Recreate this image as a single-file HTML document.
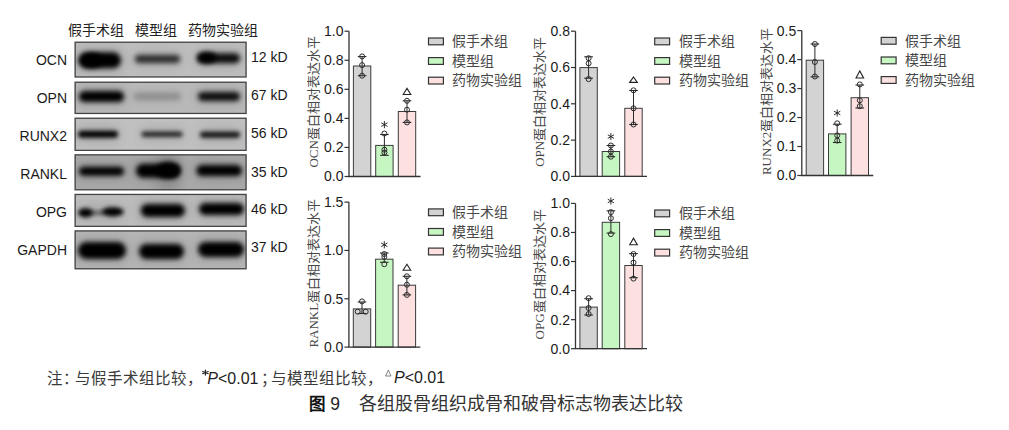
<!DOCTYPE html>
<html lang="zh-CN"><head><meta charset="utf-8"><style>
html,body{margin:0;padding:0;background:#fff;}
body{width:1009px;height:430px;overflow:hidden;position:relative;font-family:"Liberation Sans", sans-serif;}
svg{position:absolute;left:0;top:0;display:block;}
</style></head><body>
<svg width="1009" height="430" viewBox="0 0 1009 430">
<defs><filter id="bl2" x="-30%" y="-100%" width="160%" height="300%"><feGaussianBlur stdDeviation="2.5"/></filter><filter id="bl1" x="-30%" y="-100%" width="160%" height="300%"><feGaussianBlur stdDeviation="2"/></filter><filter id="bl3" x="-30%" y="-100%" width="160%" height="300%"><feGaussianBlur stdDeviation="3"/></filter><filter id="bl6" x="-50%" y="-50%" width="200%" height="200%"><feGaussianBlur stdDeviation="6"/></filter><linearGradient id="gbg" x1="0" y1="0" x2="0" y2="1"><stop offset="0" stop-color="#c2c2c2"/><stop offset="1" stop-color="#b8b8b8"/></linearGradient><clipPath id="cb0"><rect x="74.5" y="41.6" width="172.2" height="35.99999999999999"/></clipPath><clipPath id="cb1"><rect x="74.5" y="81.6" width="172.2" height="32.5"/></clipPath><clipPath id="cb2"><rect x="74.5" y="117.6" width="172.2" height="33.400000000000006"/></clipPath><clipPath id="cb3"><rect x="74.5" y="154.2" width="172.2" height="36.20000000000002"/></clipPath><clipPath id="cb4"><rect x="74.5" y="193.8" width="172.2" height="33.19999999999999"/></clipPath><clipPath id="cb5"><rect x="74.5" y="230.3" width="172.2" height="39.099999999999966"/></clipPath></defs>
<rect width="1009" height="430" fill="#fff"/>
<g clip-path="url(#cb0)">
<rect x="74.5" y="41.6" width="172.2" height="35.99999999999999" fill="#bebebe"/>
<rect x="76.5" y="48.30" width="46.5" height="24" rx="6" fill="#000" opacity="0.120" filter="url(#bl6)"/>
<rect x="133" y="51.00" width="49" height="16" rx="6" fill="#000" opacity="0.090" filter="url(#bl6)"/>
<rect x="195" y="49.30" width="47" height="18" rx="6" fill="#000" opacity="0.110" filter="url(#bl6)"/>
<rect x="78.5" y="52.30" width="42.5" height="16" rx="8.0" fill="#000" opacity="1.0" filter="url(#bl2)"/>
<rect x="135" y="55.00" width="45" height="8" rx="4.0" fill="#000" opacity="0.75" filter="url(#bl2)"/>
<rect x="197" y="53.30" width="43" height="10" rx="5.0" fill="#000" opacity="0.92" filter="url(#bl2)"/>
<ellipse cx="92" cy="60.5" rx="11" ry="7.2" fill="#000" filter="url(#bl2)"/>
<ellipse cx="207" cy="57.5" rx="9" ry="5.5" fill="#000" filter="url(#bl2)"/>
</g>
<rect x="75.15" y="42.25" width="170.90" height="34.70" fill="none" stroke="#454545" stroke-width="1.3"/>
<g clip-path="url(#cb1)">
<rect x="74.5" y="81.6" width="172.2" height="32.5" fill="#b9b9b9"/>
<rect x="77" y="87.00" width="49" height="19" rx="6" fill="#000" opacity="0.120" filter="url(#bl6)"/>
<rect x="132" y="88.50" width="51" height="16" rx="6" fill="#000" opacity="0.024" filter="url(#bl6)"/>
<rect x="196" y="88.00" width="46" height="17" rx="6" fill="#000" opacity="0.110" filter="url(#bl6)"/>
<rect x="79" y="91.00" width="45" height="11" rx="5.5" fill="#000" opacity="1.0" filter="url(#bl2)"/>
<rect x="134" y="92.50" width="47" height="8" rx="4.0" fill="#000" opacity="0.2" filter="url(#bl2)"/>
<rect x="198" y="92.00" width="42" height="9" rx="4.5" fill="#000" opacity="0.92" filter="url(#bl2)"/>
</g>
<rect x="75.15" y="82.25" width="170.90" height="31.20" fill="none" stroke="#454545" stroke-width="1.3"/>
<g clip-path="url(#cb2)">
<rect x="74.5" y="117.6" width="172.2" height="33.400000000000006" fill="#c0c0c0"/>
<rect x="76" y="126.80" width="44" height="15" rx="6" fill="#000" opacity="0.120" filter="url(#bl6)"/>
<rect x="139.5" y="127.80" width="45.0" height="13" rx="6" fill="#000" opacity="0.102" filter="url(#bl6)"/>
<rect x="198" y="127.80" width="44" height="14" rx="6" fill="#000" opacity="0.108" filter="url(#bl6)"/>
<rect x="78" y="130.80" width="40" height="7" rx="3.5" fill="#000" opacity="1.0" filter="url(#bl1)"/>
<rect x="141.5" y="131.80" width="41.0" height="5" rx="2.5" fill="#000" opacity="0.85" filter="url(#bl1)"/>
<rect x="200" y="131.80" width="40" height="6" rx="3.0" fill="#000" opacity="0.9" filter="url(#bl1)"/>
</g>
<rect x="75.15" y="118.25" width="170.90" height="32.10" fill="none" stroke="#454545" stroke-width="1.3"/>
<g clip-path="url(#cb3)">
<rect x="74.5" y="154.2" width="172.2" height="36.20000000000002" fill="#a9a9a9"/>
<rect x="77" y="162.70" width="49" height="17" rx="6" fill="#000" opacity="0.120" filter="url(#bl6)"/>
<rect x="134" y="159.80" width="48.599999999999994" height="22" rx="6" fill="#000" opacity="0.120" filter="url(#bl6)"/>
<rect x="194.4" y="161.10" width="49.599999999999994" height="19" rx="6" fill="#000" opacity="0.120" filter="url(#bl6)"/>
<rect x="158" y="150" width="20" height="45" fill="#000" opacity="0.12" filter="url(#bl6)"/>
<rect x="79" y="166.70" width="45" height="9" rx="4.5" fill="#000" opacity="1.0" filter="url(#bl2)"/>
<rect x="136" y="163.80" width="44.599999999999994" height="14" rx="7.0" fill="#000" opacity="1.0" filter="url(#bl2)"/>
<rect x="196.4" y="165.10" width="45.599999999999994" height="11" rx="5.5" fill="#000" opacity="1.0" filter="url(#bl2)"/>
<ellipse cx="168" cy="170.3" rx="12" ry="8" fill="#000" filter="url(#bl2)"/>
</g>
<rect x="75.15" y="154.85" width="170.90" height="34.90" fill="none" stroke="#454545" stroke-width="1.3"/>
<g clip-path="url(#cb4)">
<rect x="74.5" y="193.8" width="172.2" height="33.19999999999999" fill="#bcbcbc"/>
<rect x="138.7" y="200.00" width="48.30000000000001" height="21" rx="6" fill="#000" opacity="0.120" filter="url(#bl6)"/>
<rect x="197" y="199.00" width="49" height="20" rx="6" fill="#000" opacity="0.120" filter="url(#bl6)"/>
<rect x="140.7" y="204.00" width="44.30000000000001" height="13" rx="6.5" fill="#000" opacity="1.0" filter="url(#bl2)"/>
<rect x="199" y="203.00" width="45" height="12" rx="6.0" fill="#000" opacity="1.0" filter="url(#bl2)"/>
<ellipse cx="85.5" cy="212.8" rx="7.5" ry="4.6" fill="#000" filter="url(#bl1)"/>
<ellipse cx="112.8" cy="211.8" rx="11" ry="4.6" fill="#000" filter="url(#bl1)"/>
<rect x="90" y="211.3" width="14" height="3" fill="#000" opacity="0.6" filter="url(#bl1)"/>
<rect x="80" y="206" width="44" height="13" rx="6" fill="#000" opacity="0.12" filter="url(#bl6)"/>
</g>
<rect x="75.15" y="194.45000000000002" width="170.90" height="31.90" fill="none" stroke="#454545" stroke-width="1.3"/>
<g clip-path="url(#cb5)">
<rect x="74.5" y="230.3" width="172.2" height="39.099999999999966" fill="#b6b6b6"/>
<rect x="76" y="237.90" width="52" height="25" rx="6" fill="#000" opacity="0.120" filter="url(#bl6)"/>
<rect x="137" y="239.90" width="49" height="23" rx="6" fill="#000" opacity="0.120" filter="url(#bl6)"/>
<rect x="196" y="238.00" width="50" height="23" rx="6" fill="#000" opacity="0.120" filter="url(#bl6)"/>
<rect x="78" y="241.90" width="48" height="17" rx="8.5" fill="#000" opacity="1.0" filter="url(#bl2)"/>
<rect x="139" y="243.90" width="45" height="15" rx="7.5" fill="#000" opacity="1.0" filter="url(#bl2)"/>
<rect x="198" y="242.00" width="46" height="15" rx="7.5" fill="#000" opacity="1.0" filter="url(#bl2)"/>
</g>
<rect x="75.15" y="230.95000000000002" width="170.90" height="37.80" fill="none" stroke="#454545" stroke-width="1.3"/>
<text x="67" y="64.7" text-anchor="end" font-size="14" fill="#1a1a1a" font-family='"Liberation Sans", sans-serif'>OCN</text>
<text x="67" y="102.8" text-anchor="end" font-size="14" fill="#1a1a1a" font-family='"Liberation Sans", sans-serif'>OPN</text>
<text x="67" y="140.6" text-anchor="end" font-size="14" fill="#1a1a1a" font-family='"Liberation Sans", sans-serif'>RUNX2</text>
<text x="67" y="178.5" text-anchor="end" font-size="14" fill="#1a1a1a" font-family='"Liberation Sans", sans-serif'>RANKL</text>
<text x="67" y="216.9" text-anchor="end" font-size="14" fill="#1a1a1a" font-family='"Liberation Sans", sans-serif'>OPG</text>
<text x="67" y="254.7" text-anchor="end" font-size="14" fill="#1a1a1a" font-family='"Liberation Sans", sans-serif'>GAPDH</text>
<text x="251" y="62.4" font-size="14" fill="#1a1a1a" font-family='"Liberation Sans", sans-serif'>12 kD</text>
<text x="251" y="99.9" font-size="14" fill="#1a1a1a" font-family='"Liberation Sans", sans-serif'>67 kD</text>
<text x="251" y="138.3" font-size="14" fill="#1a1a1a" font-family='"Liberation Sans", sans-serif'>56 kD</text>
<text x="251" y="176.6" font-size="14" fill="#1a1a1a" font-family='"Liberation Sans", sans-serif'>35 kD</text>
<text x="251" y="214.2" font-size="14" fill="#1a1a1a" font-family='"Liberation Sans", sans-serif'>46 kD</text>
<text x="251" y="251.9" font-size="14" fill="#1a1a1a" font-family='"Liberation Sans", sans-serif'>37 kD</text>
<text x="67.5" y="34.5" font-size="14" fill="#222" font-family='"Liberation Sans", sans-serif'>假手术组</text>
<text x="134.8" y="34.5" font-size="14" fill="#222" font-family='"Liberation Sans", sans-serif'>模型组</text>
<text x="187.5" y="34.5" font-size="14" fill="#222" font-family='"Liberation Sans", sans-serif'>药物实验组</text>
<rect x="353.40" y="66" width="17.4" height="110.50" fill="#d3d3d3" stroke="#3a3a3a" stroke-width="1"/>
<rect x="375.70" y="145.4" width="17.4" height="31.10" fill="#c6f6c2" stroke="#3a3a3a" stroke-width="1"/>
<rect x="398.30" y="111.5" width="17.4" height="65.00" fill="#fde0e0" stroke="#3a3a3a" stroke-width="1"/>
<line x1="362.10" y1="56.6" x2="362.10" y2="75.7" stroke="#2a2a2a" stroke-width="1"/>
<line x1="357.80" y1="56.6" x2="366.40" y2="56.6" stroke="#2a2a2a" stroke-width="1.1"/>
<line x1="357.80" y1="75.7" x2="366.40" y2="75.7" stroke="#2a2a2a" stroke-width="1.1"/>
<circle cx="362.10" cy="56.4" r="2.5" fill="none" stroke="#2a2a2a" stroke-width="1"/>
<circle cx="362.10" cy="65.1" r="2.5" fill="none" stroke="#2a2a2a" stroke-width="1"/>
<circle cx="362.10" cy="75.7" r="2.5" fill="none" stroke="#2a2a2a" stroke-width="1"/>
<line x1="384.40" y1="134.5" x2="384.40" y2="155.3" stroke="#2a2a2a" stroke-width="1"/>
<line x1="380.10" y1="134.5" x2="388.70" y2="134.5" stroke="#2a2a2a" stroke-width="1.1"/>
<line x1="380.10" y1="155.3" x2="388.70" y2="155.3" stroke="#2a2a2a" stroke-width="1.1"/>
<circle cx="384.40" cy="133.5" r="2.5" fill="none" stroke="#2a2a2a" stroke-width="1"/>
<circle cx="384.40" cy="149.7" r="2.5" fill="none" stroke="#2a2a2a" stroke-width="1"/>
<circle cx="384.40" cy="152.5" r="2.5" fill="none" stroke="#2a2a2a" stroke-width="1"/>
<line x1="407.00" y1="100.8" x2="407.00" y2="122.4" stroke="#2a2a2a" stroke-width="1"/>
<line x1="402.70" y1="100.8" x2="411.30" y2="100.8" stroke="#2a2a2a" stroke-width="1.1"/>
<line x1="402.70" y1="122.4" x2="411.30" y2="122.4" stroke="#2a2a2a" stroke-width="1.1"/>
<circle cx="407.00" cy="100.8" r="2.5" fill="none" stroke="#2a2a2a" stroke-width="1"/>
<circle cx="407.00" cy="109.7" r="2.5" fill="none" stroke="#2a2a2a" stroke-width="1"/>
<circle cx="407.00" cy="122.4" r="2.5" fill="none" stroke="#2a2a2a" stroke-width="1"/>
<line x1="384.40" y1="121.40" x2="384.40" y2="127.80" stroke="#222" stroke-width="0.95" stroke-linecap="round"/>
<line x1="381.63" y1="123.00" x2="387.17" y2="126.20" stroke="#222" stroke-width="0.95" stroke-linecap="round"/>
<line x1="387.17" y1="123.00" x2="381.63" y2="126.20" stroke="#222" stroke-width="0.95" stroke-linecap="round"/>
<path d="M403.20,94.5 L407.00,88.4 L410.80,94.5 Z" fill="none" stroke="#222" stroke-width="1.1" stroke-linejoin="miter"/>
<path d="M349.0,31.2 V176.5 H420.5" fill="none" stroke="#333" stroke-width="1.3"/>
<line x1="344.5" y1="176.5" x2="349.0" y2="176.5" stroke="#333" stroke-width="1.2"/>
<text x="343.5" y="181.40" text-anchor="end" font-size="14" fill="#1a1a1a" font-family='"Liberation Sans", sans-serif'>0.0</text>
<line x1="344.5" y1="147.44" x2="349.0" y2="147.44" stroke="#333" stroke-width="1.2"/>
<text x="343.5" y="152.34" text-anchor="end" font-size="14" fill="#1a1a1a" font-family='"Liberation Sans", sans-serif'>0.2</text>
<line x1="344.5" y1="118.38" x2="349.0" y2="118.38" stroke="#333" stroke-width="1.2"/>
<text x="343.5" y="123.28" text-anchor="end" font-size="14" fill="#1a1a1a" font-family='"Liberation Sans", sans-serif'>0.4</text>
<line x1="344.5" y1="89.32" x2="349.0" y2="89.32" stroke="#333" stroke-width="1.2"/>
<text x="343.5" y="94.22" text-anchor="end" font-size="14" fill="#1a1a1a" font-family='"Liberation Sans", sans-serif'>0.6</text>
<line x1="344.5" y1="60.25999999999999" x2="349.0" y2="60.25999999999999" stroke="#333" stroke-width="1.2"/>
<text x="343.5" y="65.16" text-anchor="end" font-size="14" fill="#1a1a1a" font-family='"Liberation Sans", sans-serif'>0.8</text>
<line x1="344.5" y1="31.19999999999999" x2="349.0" y2="31.19999999999999" stroke="#333" stroke-width="1.2"/>
<text x="343.5" y="36.10" text-anchor="end" font-size="14" fill="#1a1a1a" font-family='"Liberation Sans", sans-serif'>1.0</text>
<text transform="translate(318.0,101.8) rotate(-90)" text-anchor="middle" font-size="13" fill="#484848" font-family='"Liberation Serif", serif'>OCN蛋白相对表达水平</text>
<rect x="428.5" y="38.0" width="14.9" height="6.8" fill="#d3d3d3" stroke="#333" stroke-width="1.2"/>
<text x="452.4" y="46.2" font-size="14" fill="#484848" font-family='"Liberation Serif", serif'>假手术组</text>
<rect x="428.5" y="57.6" width="14.9" height="6.8" fill="#c6f6c2" stroke="#333" stroke-width="1.2"/>
<text x="452.4" y="65.8" font-size="14" fill="#484848" font-family='"Liberation Serif", serif'>模型组</text>
<rect x="428.5" y="77.19999999999999" width="14.9" height="6.8" fill="#fde0e0" stroke="#333" stroke-width="1.2"/>
<text x="452.4" y="85.39999999999999" font-size="14" fill="#484848" font-family='"Liberation Serif", serif'>药物实验组</text>
<rect x="579.90" y="67.6" width="17.4" height="108.80" fill="#d3d3d3" stroke="#3a3a3a" stroke-width="1"/>
<rect x="602.20" y="151.5" width="17.4" height="24.90" fill="#c6f6c2" stroke="#3a3a3a" stroke-width="1"/>
<rect x="624.80" y="108.3" width="17.4" height="68.10" fill="#fde0e0" stroke="#3a3a3a" stroke-width="1"/>
<line x1="588.60" y1="56.8" x2="588.60" y2="78.2" stroke="#2a2a2a" stroke-width="1"/>
<line x1="584.30" y1="56.8" x2="592.90" y2="56.8" stroke="#2a2a2a" stroke-width="1.1"/>
<line x1="584.30" y1="78.2" x2="592.90" y2="78.2" stroke="#2a2a2a" stroke-width="1.1"/>
<circle cx="588.60" cy="58.2" r="2.5" fill="none" stroke="#2a2a2a" stroke-width="1"/>
<circle cx="588.60" cy="63.3" r="2.5" fill="none" stroke="#2a2a2a" stroke-width="1"/>
<circle cx="588.60" cy="79.1" r="2.5" fill="none" stroke="#2a2a2a" stroke-width="1"/>
<line x1="610.90" y1="145.5" x2="610.90" y2="156.7" stroke="#2a2a2a" stroke-width="1"/>
<line x1="606.60" y1="145.5" x2="615.20" y2="145.5" stroke="#2a2a2a" stroke-width="1.1"/>
<line x1="606.60" y1="156.7" x2="615.20" y2="156.7" stroke="#2a2a2a" stroke-width="1.1"/>
<circle cx="610.90" cy="145.5" r="2.5" fill="none" stroke="#2a2a2a" stroke-width="1"/>
<circle cx="610.90" cy="151.5" r="2.5" fill="none" stroke="#2a2a2a" stroke-width="1"/>
<circle cx="610.90" cy="156.7" r="2.5" fill="none" stroke="#2a2a2a" stroke-width="1"/>
<line x1="633.50" y1="90.5" x2="633.50" y2="124.5" stroke="#2a2a2a" stroke-width="1"/>
<line x1="629.20" y1="90.5" x2="637.80" y2="90.5" stroke="#2a2a2a" stroke-width="1.1"/>
<line x1="629.20" y1="124.5" x2="637.80" y2="124.5" stroke="#2a2a2a" stroke-width="1.1"/>
<circle cx="633.50" cy="90.3" r="2.5" fill="none" stroke="#2a2a2a" stroke-width="1"/>
<circle cx="633.50" cy="108.3" r="2.5" fill="none" stroke="#2a2a2a" stroke-width="1"/>
<circle cx="633.50" cy="124.5" r="2.5" fill="none" stroke="#2a2a2a" stroke-width="1"/>
<line x1="610.90" y1="133.40" x2="610.90" y2="139.80" stroke="#222" stroke-width="0.95" stroke-linecap="round"/>
<line x1="608.13" y1="135.00" x2="613.67" y2="138.20" stroke="#222" stroke-width="0.95" stroke-linecap="round"/>
<line x1="613.67" y1="135.00" x2="608.13" y2="138.20" stroke="#222" stroke-width="0.95" stroke-linecap="round"/>
<path d="M629.70,82.4 L633.50,76.9 L637.30,82.4 Z" fill="none" stroke="#222" stroke-width="1.1" stroke-linejoin="miter"/>
<path d="M575.5,31.2 V176.4 H647.0" fill="none" stroke="#333" stroke-width="1.3"/>
<line x1="571.0" y1="176.4" x2="575.5" y2="176.4" stroke="#333" stroke-width="1.2"/>
<text x="570.0" y="181.30" text-anchor="end" font-size="14" fill="#1a1a1a" font-family='"Liberation Sans", sans-serif'>0.0</text>
<line x1="571.0" y1="140.1" x2="575.5" y2="140.1" stroke="#333" stroke-width="1.2"/>
<text x="570.0" y="145.00" text-anchor="end" font-size="14" fill="#1a1a1a" font-family='"Liberation Sans", sans-serif'>0.2</text>
<line x1="571.0" y1="103.8" x2="575.5" y2="103.8" stroke="#333" stroke-width="1.2"/>
<text x="570.0" y="108.70" text-anchor="end" font-size="14" fill="#1a1a1a" font-family='"Liberation Sans", sans-serif'>0.4</text>
<line x1="571.0" y1="67.5" x2="575.5" y2="67.5" stroke="#333" stroke-width="1.2"/>
<text x="570.0" y="72.40" text-anchor="end" font-size="14" fill="#1a1a1a" font-family='"Liberation Sans", sans-serif'>0.6</text>
<line x1="571.0" y1="31.19999999999999" x2="575.5" y2="31.19999999999999" stroke="#333" stroke-width="1.2"/>
<text x="570.0" y="36.10" text-anchor="end" font-size="14" fill="#1a1a1a" font-family='"Liberation Sans", sans-serif'>0.8</text>
<text transform="translate(544.3,101.8) rotate(-90)" text-anchor="middle" font-size="13" fill="#484848" font-family='"Liberation Serif", serif'>OPN蛋白相对表达水平</text>
<rect x="654.7" y="38.0" width="14.9" height="6.8" fill="#d3d3d3" stroke="#333" stroke-width="1.2"/>
<text x="678.6" y="46.2" font-size="14" fill="#484848" font-family='"Liberation Serif", serif'>假手术组</text>
<rect x="654.7" y="57.6" width="14.9" height="6.8" fill="#c6f6c2" stroke="#333" stroke-width="1.2"/>
<text x="678.6" y="65.8" font-size="14" fill="#484848" font-family='"Liberation Serif", serif'>模型组</text>
<rect x="654.7" y="77.19999999999999" width="14.9" height="6.8" fill="#fde0e0" stroke="#333" stroke-width="1.2"/>
<text x="678.6" y="85.39999999999999" font-size="14" fill="#484848" font-family='"Liberation Serif", serif'>药物实验组</text>
<rect x="806.20" y="60.2" width="17.4" height="115.30" fill="#d3d3d3" stroke="#3a3a3a" stroke-width="1"/>
<rect x="828.50" y="133.9" width="17.4" height="41.60" fill="#c6f6c2" stroke="#3a3a3a" stroke-width="1"/>
<rect x="851.10" y="97.7" width="17.4" height="77.80" fill="#fde0e0" stroke="#3a3a3a" stroke-width="1"/>
<line x1="814.90" y1="44" x2="814.90" y2="76.8" stroke="#2a2a2a" stroke-width="1"/>
<line x1="810.60" y1="44" x2="819.20" y2="44" stroke="#2a2a2a" stroke-width="1.1"/>
<line x1="810.60" y1="76.8" x2="819.20" y2="76.8" stroke="#2a2a2a" stroke-width="1.1"/>
<circle cx="814.90" cy="44" r="2.5" fill="none" stroke="#2a2a2a" stroke-width="1"/>
<circle cx="814.90" cy="62" r="2.5" fill="none" stroke="#2a2a2a" stroke-width="1"/>
<circle cx="814.90" cy="76.5" r="2.5" fill="none" stroke="#2a2a2a" stroke-width="1"/>
<line x1="837.20" y1="124.2" x2="837.20" y2="142.5" stroke="#2a2a2a" stroke-width="1"/>
<line x1="832.90" y1="124.2" x2="841.50" y2="124.2" stroke="#2a2a2a" stroke-width="1.1"/>
<line x1="832.90" y1="142.5" x2="841.50" y2="142.5" stroke="#2a2a2a" stroke-width="1.1"/>
<circle cx="837.20" cy="123.3" r="2.5" fill="none" stroke="#2a2a2a" stroke-width="1"/>
<circle cx="837.20" cy="135.4" r="2.5" fill="none" stroke="#2a2a2a" stroke-width="1"/>
<circle cx="837.20" cy="140.6" r="2.5" fill="none" stroke="#2a2a2a" stroke-width="1"/>
<line x1="859.80" y1="85" x2="859.80" y2="108" stroke="#2a2a2a" stroke-width="1"/>
<line x1="855.50" y1="85" x2="864.10" y2="85" stroke="#2a2a2a" stroke-width="1.1"/>
<line x1="855.50" y1="108" x2="864.10" y2="108" stroke="#2a2a2a" stroke-width="1.1"/>
<circle cx="859.80" cy="84.4" r="2.5" fill="none" stroke="#2a2a2a" stroke-width="1"/>
<circle cx="859.80" cy="100.3" r="2.5" fill="none" stroke="#2a2a2a" stroke-width="1"/>
<circle cx="859.80" cy="106.2" r="2.5" fill="none" stroke="#2a2a2a" stroke-width="1"/>
<line x1="837.20" y1="109.80" x2="837.20" y2="116.20" stroke="#222" stroke-width="0.95" stroke-linecap="round"/>
<line x1="834.43" y1="111.40" x2="839.97" y2="114.60" stroke="#222" stroke-width="0.95" stroke-linecap="round"/>
<line x1="839.97" y1="111.40" x2="834.43" y2="114.60" stroke="#222" stroke-width="0.95" stroke-linecap="round"/>
<path d="M856.00,78.0 L859.80,70.9 L863.60,78.0 Z" fill="none" stroke="#222" stroke-width="1.1" stroke-linejoin="miter"/>
<path d="M801.8,30.6 V175.5 H873.3" fill="none" stroke="#333" stroke-width="1.3"/>
<line x1="797.3" y1="175.5" x2="801.8" y2="175.5" stroke="#333" stroke-width="1.2"/>
<text x="796.3" y="180.40" text-anchor="end" font-size="14" fill="#1a1a1a" font-family='"Liberation Sans", sans-serif'>0.0</text>
<line x1="797.3" y1="146.52" x2="801.8" y2="146.52" stroke="#333" stroke-width="1.2"/>
<text x="796.3" y="151.42" text-anchor="end" font-size="14" fill="#1a1a1a" font-family='"Liberation Sans", sans-serif'>0.1</text>
<line x1="797.3" y1="117.53999999999999" x2="801.8" y2="117.53999999999999" stroke="#333" stroke-width="1.2"/>
<text x="796.3" y="122.44" text-anchor="end" font-size="14" fill="#1a1a1a" font-family='"Liberation Sans", sans-serif'>0.2</text>
<line x1="797.3" y1="88.55999999999999" x2="801.8" y2="88.55999999999999" stroke="#333" stroke-width="1.2"/>
<text x="796.3" y="93.46" text-anchor="end" font-size="14" fill="#1a1a1a" font-family='"Liberation Sans", sans-serif'>0.3</text>
<line x1="797.3" y1="59.58" x2="801.8" y2="59.58" stroke="#333" stroke-width="1.2"/>
<text x="796.3" y="64.48" text-anchor="end" font-size="14" fill="#1a1a1a" font-family='"Liberation Sans", sans-serif'>0.4</text>
<line x1="797.3" y1="30.599999999999994" x2="801.8" y2="30.599999999999994" stroke="#333" stroke-width="1.2"/>
<text x="796.3" y="35.50" text-anchor="end" font-size="14" fill="#1a1a1a" font-family='"Liberation Sans", sans-serif'>0.5</text>
<text transform="translate(771.3,101.4) rotate(-90)" text-anchor="middle" font-size="13" fill="#484848" font-family='"Liberation Serif", serif'>RUNX2蛋白相对表达水平</text>
<rect x="881.2" y="37.4" width="14.9" height="6.8" fill="#d3d3d3" stroke="#333" stroke-width="1.2"/>
<text x="905.1" y="45.599999999999994" font-size="14" fill="#484848" font-family='"Liberation Serif", serif'>假手术组</text>
<rect x="881.2" y="57.0" width="14.9" height="6.8" fill="#c6f6c2" stroke="#333" stroke-width="1.2"/>
<text x="905.1" y="65.2" font-size="14" fill="#484848" font-family='"Liberation Serif", serif'>模型组</text>
<rect x="881.2" y="76.6" width="14.9" height="6.8" fill="#fde0e0" stroke="#333" stroke-width="1.2"/>
<text x="905.1" y="84.8" font-size="14" fill="#484848" font-family='"Liberation Serif", serif'>药物实验组</text>
<rect x="353.30" y="308.9" width="17.4" height="38.20" fill="#d3d3d3" stroke="#3a3a3a" stroke-width="1"/>
<rect x="375.60" y="259.2" width="17.4" height="87.90" fill="#c6f6c2" stroke="#3a3a3a" stroke-width="1"/>
<rect x="398.20" y="285.2" width="17.4" height="61.90" fill="#fde0e0" stroke="#3a3a3a" stroke-width="1"/>
<line x1="362.00" y1="302" x2="362.00" y2="313.5" stroke="#2a2a2a" stroke-width="1"/>
<line x1="357.70" y1="302" x2="366.30" y2="302" stroke="#2a2a2a" stroke-width="1.1"/>
<line x1="357.70" y1="313.5" x2="366.30" y2="313.5" stroke="#2a2a2a" stroke-width="1.1"/>
<circle cx="362.00" cy="301.4" r="2.5" fill="none" stroke="#2a2a2a" stroke-width="1"/>
<circle cx="357.70" cy="311.7" r="2.5" fill="none" stroke="#2a2a2a" stroke-width="1"/>
<circle cx="365.70" cy="311.7" r="2.5" fill="none" stroke="#2a2a2a" stroke-width="1"/>
<line x1="384.30" y1="253" x2="384.30" y2="262.3" stroke="#2a2a2a" stroke-width="1"/>
<line x1="380.00" y1="253" x2="388.60" y2="253" stroke="#2a2a2a" stroke-width="1.1"/>
<line x1="380.00" y1="262.3" x2="388.60" y2="262.3" stroke="#2a2a2a" stroke-width="1.1"/>
<circle cx="384.30" cy="254" r="2.5" fill="none" stroke="#2a2a2a" stroke-width="1"/>
<circle cx="384.30" cy="256.8" r="2.5" fill="none" stroke="#2a2a2a" stroke-width="1"/>
<circle cx="384.30" cy="264.2" r="2.5" fill="none" stroke="#2a2a2a" stroke-width="1"/>
<line x1="406.90" y1="276.3" x2="406.90" y2="294.9" stroke="#2a2a2a" stroke-width="1"/>
<line x1="402.60" y1="276.3" x2="411.20" y2="276.3" stroke="#2a2a2a" stroke-width="1.1"/>
<line x1="402.60" y1="294.9" x2="411.20" y2="294.9" stroke="#2a2a2a" stroke-width="1.1"/>
<circle cx="406.90" cy="276.3" r="2.5" fill="none" stroke="#2a2a2a" stroke-width="1"/>
<circle cx="406.90" cy="284.7" r="2.5" fill="none" stroke="#2a2a2a" stroke-width="1"/>
<circle cx="406.90" cy="294.9" r="2.5" fill="none" stroke="#2a2a2a" stroke-width="1"/>
<line x1="384.30" y1="241.60" x2="384.30" y2="248.00" stroke="#222" stroke-width="0.95" stroke-linecap="round"/>
<line x1="381.53" y1="243.20" x2="387.07" y2="246.40" stroke="#222" stroke-width="0.95" stroke-linecap="round"/>
<line x1="387.07" y1="243.20" x2="381.53" y2="246.40" stroke="#222" stroke-width="0.95" stroke-linecap="round"/>
<path d="M403.10,270.3 L406.90,264.2 L410.70,270.3 Z" fill="none" stroke="#222" stroke-width="1.1" stroke-linejoin="miter"/>
<path d="M348.9,202.1 V347.1 H420.4" fill="none" stroke="#333" stroke-width="1.3"/>
<line x1="344.4" y1="347.1" x2="348.9" y2="347.1" stroke="#333" stroke-width="1.2"/>
<text x="343.4" y="352.00" text-anchor="end" font-size="14" fill="#1a1a1a" font-family='"Liberation Sans", sans-serif'>0.0</text>
<line x1="344.4" y1="298.76666666666665" x2="348.9" y2="298.76666666666665" stroke="#333" stroke-width="1.2"/>
<text x="343.4" y="303.67" text-anchor="end" font-size="14" fill="#1a1a1a" font-family='"Liberation Sans", sans-serif'>0.5</text>
<line x1="344.4" y1="250.43333333333334" x2="348.9" y2="250.43333333333334" stroke="#333" stroke-width="1.2"/>
<text x="343.4" y="255.33" text-anchor="end" font-size="14" fill="#1a1a1a" font-family='"Liberation Sans", sans-serif'>1.0</text>
<line x1="344.4" y1="202.1" x2="348.9" y2="202.1" stroke="#333" stroke-width="1.2"/>
<text x="343.4" y="207.00" text-anchor="end" font-size="14" fill="#1a1a1a" font-family='"Liberation Sans", sans-serif'>1.5</text>
<text transform="translate(318.3,273.2) rotate(-90)" text-anchor="middle" font-size="13" fill="#484848" font-family='"Liberation Serif", serif'>RANKL蛋白相对表达水平</text>
<rect x="428.5" y="208.9" width="14.9" height="6.8" fill="#d3d3d3" stroke="#333" stroke-width="1.2"/>
<text x="452.4" y="217.10000000000002" font-size="14" fill="#484848" font-family='"Liberation Serif", serif'>假手术组</text>
<rect x="428.5" y="228.5" width="14.9" height="6.8" fill="#c6f6c2" stroke="#333" stroke-width="1.2"/>
<text x="452.4" y="236.70000000000002" font-size="14" fill="#484848" font-family='"Liberation Serif", serif'>模型组</text>
<rect x="428.5" y="248.1" width="14.9" height="6.8" fill="#fde0e0" stroke="#333" stroke-width="1.2"/>
<text x="452.4" y="256.3" font-size="14" fill="#484848" font-family='"Liberation Serif", serif'>药物实验组</text>
<rect x="579.90" y="307.1" width="17.4" height="41.60" fill="#d3d3d3" stroke="#3a3a3a" stroke-width="1"/>
<rect x="602.20" y="222.3" width="17.4" height="126.40" fill="#c6f6c2" stroke="#3a3a3a" stroke-width="1"/>
<rect x="624.80" y="265.5" width="17.4" height="83.20" fill="#fde0e0" stroke="#3a3a3a" stroke-width="1"/>
<line x1="588.60" y1="298.7" x2="588.60" y2="315" stroke="#2a2a2a" stroke-width="1"/>
<line x1="584.30" y1="298.7" x2="592.90" y2="298.7" stroke="#2a2a2a" stroke-width="1.1"/>
<line x1="584.30" y1="315" x2="592.90" y2="315" stroke="#2a2a2a" stroke-width="1.1"/>
<circle cx="588.60" cy="298.2" r="2.5" fill="none" stroke="#2a2a2a" stroke-width="1"/>
<circle cx="588.60" cy="308" r="2.5" fill="none" stroke="#2a2a2a" stroke-width="1"/>
<circle cx="588.60" cy="314" r="2.5" fill="none" stroke="#2a2a2a" stroke-width="1"/>
<line x1="610.90" y1="210.8" x2="610.90" y2="233.1" stroke="#2a2a2a" stroke-width="1"/>
<line x1="606.60" y1="210.8" x2="615.20" y2="210.8" stroke="#2a2a2a" stroke-width="1.1"/>
<line x1="606.60" y1="233.1" x2="615.20" y2="233.1" stroke="#2a2a2a" stroke-width="1.1"/>
<circle cx="610.90" cy="212.1" r="2.5" fill="none" stroke="#2a2a2a" stroke-width="1"/>
<circle cx="610.90" cy="218.2" r="2.5" fill="none" stroke="#2a2a2a" stroke-width="1"/>
<circle cx="610.90" cy="234.1" r="2.5" fill="none" stroke="#2a2a2a" stroke-width="1"/>
<line x1="633.50" y1="253.6" x2="633.50" y2="277.7" stroke="#2a2a2a" stroke-width="1"/>
<line x1="629.20" y1="253.6" x2="637.80" y2="253.6" stroke="#2a2a2a" stroke-width="1.1"/>
<line x1="629.20" y1="277.7" x2="637.80" y2="277.7" stroke="#2a2a2a" stroke-width="1.1"/>
<circle cx="633.50" cy="254" r="2.5" fill="none" stroke="#2a2a2a" stroke-width="1"/>
<circle cx="633.50" cy="262.6" r="2.5" fill="none" stroke="#2a2a2a" stroke-width="1"/>
<circle cx="633.50" cy="278.6" r="2.5" fill="none" stroke="#2a2a2a" stroke-width="1"/>
<line x1="610.90" y1="197.80" x2="610.90" y2="204.20" stroke="#222" stroke-width="0.95" stroke-linecap="round"/>
<line x1="608.13" y1="199.40" x2="613.67" y2="202.60" stroke="#222" stroke-width="0.95" stroke-linecap="round"/>
<line x1="613.67" y1="199.40" x2="608.13" y2="202.60" stroke="#222" stroke-width="0.95" stroke-linecap="round"/>
<path d="M629.70,244.7 L633.50,238.2 L637.30,244.7 Z" fill="none" stroke="#222" stroke-width="1.1" stroke-linejoin="miter"/>
<path d="M575.5,203.4 V348.7 H647.0" fill="none" stroke="#333" stroke-width="1.3"/>
<line x1="571.0" y1="348.7" x2="575.5" y2="348.7" stroke="#333" stroke-width="1.2"/>
<text x="570.0" y="353.60" text-anchor="end" font-size="14" fill="#1a1a1a" font-family='"Liberation Sans", sans-serif'>0.0</text>
<line x1="571.0" y1="319.64" x2="575.5" y2="319.64" stroke="#333" stroke-width="1.2"/>
<text x="570.0" y="324.54" text-anchor="end" font-size="14" fill="#1a1a1a" font-family='"Liberation Sans", sans-serif'>0.2</text>
<line x1="571.0" y1="290.58" x2="575.5" y2="290.58" stroke="#333" stroke-width="1.2"/>
<text x="570.0" y="295.48" text-anchor="end" font-size="14" fill="#1a1a1a" font-family='"Liberation Sans", sans-serif'>0.4</text>
<line x1="571.0" y1="261.52" x2="575.5" y2="261.52" stroke="#333" stroke-width="1.2"/>
<text x="570.0" y="266.42" text-anchor="end" font-size="14" fill="#1a1a1a" font-family='"Liberation Sans", sans-serif'>0.6</text>
<line x1="571.0" y1="232.46" x2="575.5" y2="232.46" stroke="#333" stroke-width="1.2"/>
<text x="570.0" y="237.36" text-anchor="end" font-size="14" fill="#1a1a1a" font-family='"Liberation Sans", sans-serif'>0.8</text>
<line x1="571.0" y1="203.4" x2="575.5" y2="203.4" stroke="#333" stroke-width="1.2"/>
<text x="570.0" y="208.30" text-anchor="end" font-size="14" fill="#1a1a1a" font-family='"Liberation Sans", sans-serif'>1.0</text>
<text transform="translate(544.0,274.4) rotate(-90)" text-anchor="middle" font-size="13" fill="#484848" font-family='"Liberation Serif", serif'>OPG蛋白相对表达水平</text>
<rect x="654.7" y="210.0" width="14.9" height="6.8" fill="#d3d3d3" stroke="#333" stroke-width="1.2"/>
<text x="678.6" y="218.20000000000002" font-size="14" fill="#484848" font-family='"Liberation Serif", serif'>假手术组</text>
<rect x="654.7" y="229.6" width="14.9" height="6.8" fill="#c6f6c2" stroke="#333" stroke-width="1.2"/>
<text x="678.6" y="237.8" font-size="14" fill="#484848" font-family='"Liberation Serif", serif'>模型组</text>
<rect x="654.7" y="249.20000000000002" width="14.9" height="6.8" fill="#fde0e0" stroke="#333" stroke-width="1.2"/>
<text x="678.6" y="257.40000000000003" font-size="14" fill="#484848" font-family='"Liberation Serif", serif'>药物实验组</text>
<text x="47" y="384" font-size="15.5" fill="#3a3a3a" font-family='"Liberation Serif", serif'>注：</text>
<text x="74.8" y="384" font-size="15.5" fill="#3a3a3a" font-family='"Liberation Serif", serif'>与假手术组比较，</text>
<path d="M205.4,370.1 V375.1 M202.6,371.5 L208.2,373.7 M202.6,373.7 L208.2,371.5" stroke="#222" stroke-width="1.2" stroke-linecap="round" fill="none"/>
<text x="207.3" y="383.6" font-size="16" fill="#222" font-family='"Liberation Sans", sans-serif'><tspan font-style="italic">P</tspan>&lt;0.01</text>
<text x="260.5" y="384" font-size="15.5" fill="#3a3a3a" font-family='"Liberation Serif", serif'>；</text>
<text x="270.5" y="384" font-size="15.5" fill="#3a3a3a" font-family='"Liberation Serif", serif'>与模型组比较，</text>
<path d="M385.6,376 L388.3,370 L391,376 Z" fill="none" stroke="#777" stroke-width="0.9"/>
<text x="394" y="383.4" font-size="16" fill="#222" font-family='"Liberation Sans", sans-serif'><tspan font-style="italic">P</tspan>&lt;0.01</text>
<text x="309" y="409.5" font-size="16.5" fill="#111" font-family='"Liberation Sans", sans-serif' font-weight="bold">图</text>
<text x="330.2" y="409.5" font-size="17.5" fill="#222" font-family='"Liberation Sans", sans-serif'>9</text>
<text x="359" y="409.5" font-size="18" fill="#333" font-family='"Liberation Serif", serif'>各组股骨组织成骨和破骨标志物表达比较</text>
</svg>
</body></html>
